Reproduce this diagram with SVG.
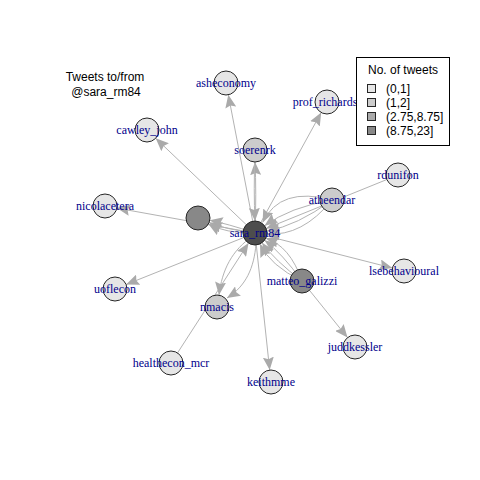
<svg xmlns="http://www.w3.org/2000/svg" width="480" height="480" viewBox="0 0 480 480">
<style>
.e{fill:none;stroke:#b3b3b3;stroke-width:1}
.ea{fill:none;stroke:#b3b3b3;stroke-width:1;marker-end:url(#arr)}
.n{stroke:#262626;stroke-width:1}
.l{font-family:"Liberation Serif","Times New Roman",serif;font-size:12px;fill:#00008b;text-anchor:middle}
.t{font-family:"Liberation Sans",Arial,sans-serif;font-size:12px;fill:#000}
.c0{fill:#e6e6e6}.c1{fill:#cccccc}.c2{fill:#888888}.c3{fill:#4d4d4d}
</style>
<defs>
<marker id="arr" viewBox="0 0 13 11" refX="13" refY="5.5" markerWidth="13" markerHeight="11" markerUnits="userSpaceOnUse" orient="auto">
<path d="M0,0 L13,5.5 L0,11 L2,5.5 Z" fill="#aaaaaa"/>
</marker>
</defs>
<rect width="480" height="480" fill="#ffffff"/>
<g id="title">
<text class="t" x="105" y="81" text-anchor="middle">Tweets to/from</text>
<text class="t" x="106" y="96" text-anchor="middle">@sara_rm84</text>
</g>
<g id="edges">
<path class="ea" d="M255,233 L228.3,94.8"/>
<path class="ea" d="M255,233 L155.7,138.3"/>
<path class="ea" d="M255,233 L321.2,112.5"/>
<path class="ea" d="M255,233 L116.8,208.1"/>
<path class="ea" d="M255,233 L392.4,268"/>
<path class="ea" d="M255,233 L126.1,284.5"/>
<path class="ea" d="M255,233 L269.7,370.1"/>
<path class="ea" d="M302,281 L347.5,337.6"/>
<path class="ea" d="M398,175 L266.1,228.5"/>
<path class="ea" d="M171,363 L248.5,243.1"/>
<path class="ea" d="M255,233 Q256.5,192 255,162"/>
<path class="ea" d="M255,150 Q253.5,192 255,221"/>
<path class="ea" d="M253,236 C232,250 222,270 219,295"/>
<path class="ea" d="M256,244 C254,268 246,286 227,298"/>
<path class="ea" d="M332,200 Q280,186 262.6,222.5"/>
<path class="ea" d="M332,200 Q289.6,207.3 264.6,225.8"/>
<path class="ea" d="M332,200 Q297.4,225.7 266.8,231"/>
<path class="ea" d="M332,200 Q302.2,236.7 267,233.9"/>
<path class="ea" d="M302,281 Q290,246 265.8,238.2"/>
<path class="ea" d="M302,281 Q282.1,253.5 264.6,240.2"/>
<path class="ea" d="M302,281 Q274.9,260.5 262,242.7"/>
<path class="ea" d="M302,281 Q269.9,265.4 260,243.9"/>
<path class="ea" d="M255,233 Q224.5,233.2 208.4,224"/>
<path class="ea" d="M255,233 Q225.5,229.4 209.1,222.6"/>
<path class="ea" d="M255,233 Q227,223.6 209.8,220.3"/>
</g>
<g id="node_unlabeled"><circle class="n c2" cx="198" cy="218" r="12"/></g>
<g id="asheconomy"><circle class="n c0" cx="226" cy="83" r="12"/><text class="l" x="226" y="87">asheconomy</text></g>
<g id="cawley_john"><circle class="n c0" cx="147" cy="130" r="12"/><text class="l" x="147" y="134">cawley_john</text></g>
<g id="soerenrk"><circle class="n c1" cx="255" cy="150" r="12"/><text class="l" x="255" y="154">soerenrk</text></g>
<g id="prof_richards"><circle class="n c0" cx="327" cy="102" r="12"/><text class="l" x="325" y="106">prof_richards</text></g>
<g id="rdunifon"><circle class="n c0" cx="398" cy="175" r="12"/><text class="l" x="398" y="179">rdunifon</text></g>
<g id="atheendar"><circle class="n c1" cx="332" cy="200" r="12"/><text class="l" x="332" y="204">atheendar</text></g>
<g id="nicolacetera"><circle class="n c0" cx="105" cy="206" r="12"/><text class="l" x="105" y="210">nicolacetera</text></g>
<g id="lsebehavioural"><circle class="n c0" cx="404" cy="271" r="12"/><text class="l" x="404" y="275">lsebehavioural</text></g>
<g id="matteo_galizzi"><circle class="n c2" cx="302" cy="281" r="12"/><text class="l" x="302" y="285">matteo_galizzi</text></g>
<g id="uoflecon"><circle class="n c0" cx="115" cy="289" r="12"/><text class="l" x="115" y="293">uoflecon</text></g>
<g id="nmacis"><circle class="n c1" cx="217" cy="307" r="12"/><text class="l" x="217" y="311">nmacis</text></g>
<g id="juddkessler"><circle class="n c0" cx="355" cy="347" r="12"/><text class="l" x="355" y="351">juddkessler</text></g>
<g id="healthecon_mcr"><circle class="n c0" cx="171" cy="363" r="12"/><text class="l" x="171" y="367">healthecon_mcr</text></g>
<g id="keithmme"><circle class="n c0" cx="271" cy="382" r="12"/><text class="l" x="271" y="386">keithmme</text></g>
<g id="sara_rm84"><circle class="n c3" cx="255" cy="233" r="12"/><text class="l" x="255" y="237">sara_rm84</text></g>
<g id="legend">
<rect x="356.5" y="57.5" width="93" height="88" fill="#ffffff" stroke="#000000" stroke-width="1"/>
<text class="t" x="403" y="74" text-anchor="middle">No. of tweets</text>
<rect x="367.5" y="84.5" width="8" height="8" fill="#e6e6e6" stroke="#262626"/>
<rect x="367.5" y="98.5" width="8" height="8" fill="#cccccc" stroke="#262626"/>
<rect x="367.5" y="112.5" width="8" height="8" fill="#aaaaaa" stroke="#262626"/>
<rect x="367.5" y="126.5" width="8" height="8" fill="#888888" stroke="#262626"/>
<text class="t" x="386" y="93">(0,1]</text>
<text class="t" x="386" y="107">(1,2]</text>
<text class="t" x="386" y="121">(2.75,8.75]</text>
<text class="t" x="386" y="135">(8.75,23]</text>
</g>
</svg>
